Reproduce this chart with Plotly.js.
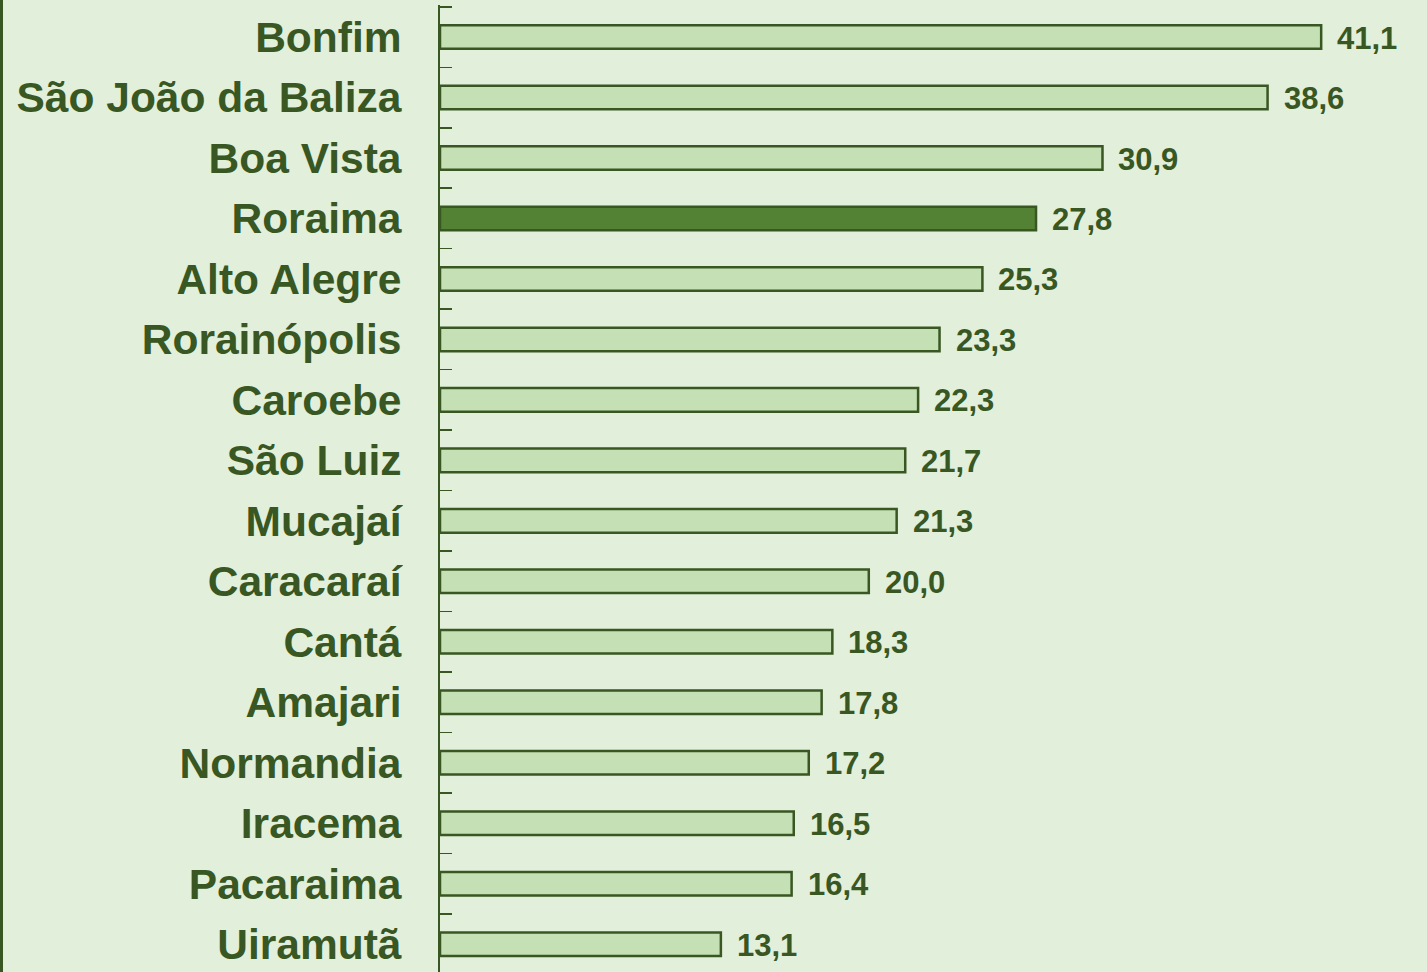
<!DOCTYPE html>
<html><head><meta charset="utf-8">
<script src="https://cdn.plot.ly/plotly-3.0.1.min.js"></script>
<style>
html,body{margin:0;padding:0;background:#E2EFDA;}
#wrap{width:1427px;height:972px;box-sizing:border-box;border-left:3px solid #385723;}
#chart{width:1424px;height:972px;}
</style></head>
<body><div id="wrap"><div id="chart"></div></div>
<script>
const categories = ["Bonfim","São João da Baliza","Boa Vista","Roraima","Alto Alegre","Rorainópolis","Caroebe","São Luiz","Mucajaí","Caracaraí","Cantá","Amajari","Normandia","Iracema","Pacaraima","Uiramutã"];
const values = [41.1,38.6,30.9,27.8,25.3,23.3,22.3,21.7,21.3,20.0,18.3,17.8,17.2,16.5,16.4,13.1];
const highlight = "Roraima";

const dark = "#385723";
const colors = categories.map(c => c === highlight ? "#548235" : "#C5E0B4");
const labels = values.map(v => v.toFixed(1).replace(".", ","));

const trace = {
  type: "bar", orientation: "h",
  x: values, y: categories,
  width: 0.39,
  marker: {color: colors, line: {color: dark, width: 2.5}},
  hoverinfo: "none"
};

const annotations = categories.map((c, i) => ({
  x: values[i], y: c, xref: "x", yref: "y",
  text: labels[i], showarrow: false, xanchor: "left", yanchor: "middle",
  xshift: 14, yshift: -1,
  font: {family: "Liberation Sans, Arial, sans-serif", size: 31, color: dark, weight: "bold"}
}));

const layout = {
  width: 1424, height: 972,
  margin: {l: 437, r: 19, t: 5, b: 0},
  paper_bgcolor: "#E2EFDA", plot_bgcolor: "#E2EFDA",
  showlegend: false,
  xaxis: {range: [0, 45.15], showgrid: false, zeroline: false, showticklabels: false, ticks: "", showline: false, fixedrange: true},
  yaxis: {
    type: "category", categoryorder: "array", categoryarray: categories,
    range: [15.46, -0.53],
    showgrid: false, zeroline: false,
    showline: true, linecolor: dark, linewidth: 2,
    ticks: "inside", ticklen: 12, tickwidth: 1.5, tickcolor: dark,
    tickson: "boundaries",
    ticklabelstandoff: 28,
    tickfont: {family: "Liberation Sans, Arial, sans-serif", size: 42.5, color: dark, weight: "bold"}
  },
  annotations: annotations
};

Plotly.newPlot("chart", [trace], layout, {displayModeBar: false, staticPlot: true});
</script></body></html>
